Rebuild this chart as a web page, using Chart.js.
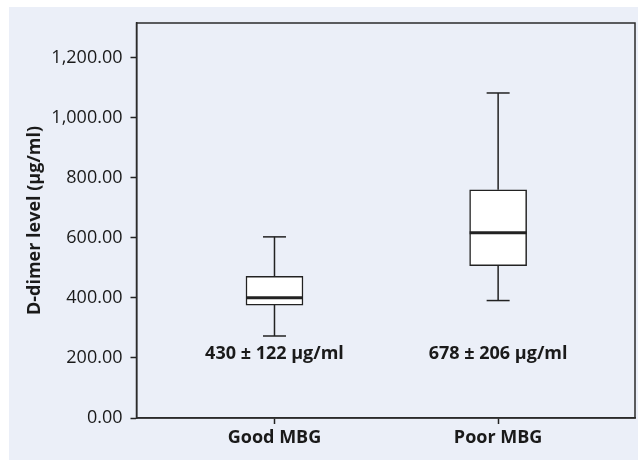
<!DOCTYPE html>
<html>
<head>
<meta charset="utf-8">
<script src="https://cdn.jsdelivr.net/npm/chart.js@4/dist/chart.umd.min.js"></script>
<style>
  body { margin: 0; background: #ffffff; }
  #panel { position: absolute; left: 9px; top: 7px; width: 629px; height: 453px; background: #ebeff8; }
  #wrap { position: absolute; left: 0; top: 0; width: 638px; height: 460px; }
</style>
</head>
<body>
<div id="panel"></div>
<div id="wrap"><canvas id="chart"></canvas></div>
<script>
// Box plot values (µg/ml)
const categories = ['Good MBG', 'Poor MBG'];
const xPositions = [1, 2];
const whiskerLow = [273, 391];
const q1 = [376, 507];
const median = [400, 617];
const q3 = [472, 760];
const whiskerHigh = [603, 1082];
const meanLabels = ['430 ± 122 µg/ml', '678 ± 206 µg/ml'];
const meanLabelLevel = [212, 212];
const yTicks = [0, 200, 400, 600, 800, 1000, 1200];

const ink = '#222222';
const fontFamily = "'Open Sans', 'Liberation Sans', sans-serif";

// Whiskers, medians, mean labels and the frame round the plot
const boxPlotExtras = {
    id: 'boxPlotExtras',
    afterDatasetsDraw(chart) {
        const { ctx, chartArea, scales: { x, y } } = chart;
        const capHalf = 11.5;
        const boxHalf = 28.5;

        ctx.save();
        ctx.strokeStyle = ink;
        ctx.lineCap = 'butt';

        xPositions.forEach((pos, i) => {
            const cx = x.getPixelForValue(pos);

            // whisker stems
            ctx.lineWidth = 1.5;
            ctx.beginPath();
            ctx.moveTo(cx, y.getPixelForValue(q3[i]));
            ctx.lineTo(cx, y.getPixelForValue(whiskerHigh[i]));
            ctx.moveTo(cx, y.getPixelForValue(q1[i]));
            ctx.lineTo(cx, y.getPixelForValue(whiskerLow[i]));
            ctx.stroke();

            // caps
            [whiskerHigh[i], whiskerLow[i]].forEach(v => {
                const py = y.getPixelForValue(v);
                ctx.beginPath();
                ctx.moveTo(cx - capHalf, py);
                ctx.lineTo(cx + capHalf, py);
                ctx.stroke();
            });

            // median
            ctx.lineWidth = 3;
            const my = y.getPixelForValue(median[i]);
            ctx.beginPath();
            ctx.moveTo(cx - boxHalf, my);
            ctx.lineTo(cx + boxHalf, my);
            ctx.stroke();

            // mean ± sd label
            ctx.fillStyle = '#1a1a1a';
            ctx.font = `bold 18px ${fontFamily}`;
            ctx.textAlign = 'center';
            ctx.textBaseline = 'middle';
            ctx.fillText(meanLabels[i], cx, y.getPixelForValue(meanLabelLevel[i]));
        });

        // frame
        ctx.lineWidth = 1.5;
        ctx.strokeStyle = '#2b2b2b';
        ctx.strokeRect(chartArea.left, chartArea.top, chartArea.right - chartArea.left, chartArea.bottom - chartArea.top);
        ctx.restore();
    }
};

const ctx = document.getElementById('chart').getContext('2d');

new Chart(ctx, {
    type: 'bar',
    data: {
        datasets: [{
            data: xPositions.map((pos, i) => ({ x: pos, y: [q1[i], q3[i]] })),
            backgroundColor: '#ffffff',
            borderColor: ink,
            borderWidth: 1.5,
            borderSkipped: false,
            barThickness: 57
        }]
    },
    options: {
        responsive: true,
        maintainAspectRatio: false,
        animation: false,
        layout: { padding: { top: 23, right: 3, bottom: 0, left: 0 } },
        plugins: {
            legend: { display: false },
            tooltip: { enabled: false }
        },
        scales: {
            x: {
                type: 'linear',
                min: 0.383,
                max: 2.612,
                offset: false,
                afterBuildTicks: scale => {
                    scale.ticks = xPositions.map(v => ({ value: v }));
                },
                afterFit: scale => { scale.height = 42; },
                ticks: {
                    color: '#1a1a1a',
                    padding: 3,
                    font: { family: fontFamily, size: 18, weight: 'bold' },
                    callback: value => categories[xPositions.indexOf(value)]
                },
                grid: {
                    offset: false,
                    drawOnChartArea: false,
                    drawTicks: true,
                    tickLength: 6,
                    tickWidth: 1.5,
                    tickColor: ink
                },
                border: { display: true, color: '#2b2b2b', width: 1.5 }
            },
            y: {
                min: 0,
                max: 1315,
                afterBuildTicks: scale => {
                    scale.ticks = yTicks.map(v => ({ value: v }));
                },
                afterFit: scale => { scale.width = 136.5; },
                ticks: {
                    color: '#1a1a1a',
                    padding: 8,
                    font: { family: fontFamily, size: 18 },
                    callback: value => value.toLocaleString('en-US', { minimumFractionDigits: 2, maximumFractionDigits: 2 })
                },
                grid: {
                    drawOnChartArea: false,
                    drawTicks: true,
                    tickLength: 6,
                    tickWidth: 1.5,
                    tickColor: ink
                },
                border: { display: true, color: '#2b2b2b', width: 1.5 },
                title: {
                    display: true,
                    text: 'D-dimer level (µg/ml)',
                    color: '#1a1a1a',
                    padding: { top: 24, bottom: 0 },
                    font: { family: fontFamily, size: 18, weight: 'bold' }
                }
            }
        }
    },
    plugins: [boxPlotExtras]
});
</script>
</body>
</html>
